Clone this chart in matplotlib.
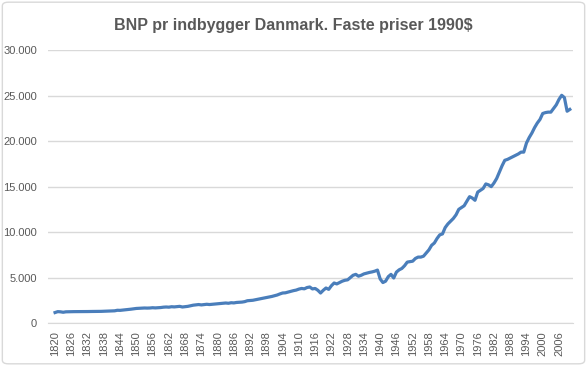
import matplotlib.pyplot as plt
from matplotlib.patches import FancyBboxPatch
from matplotlib.ticker import FuncFormatter

plt.rcParams["font.family"] = ["Liberation Sans", "DejaVu Sans"]

years = list(range(1820, 2011))
bnp = [
    1150, 1250, 1230, 1180, 1230, 1240, 1240, 1250, 1250, 1250,
    1260, 1260, 1260, 1270, 1270, 1270, 1280, 1280, 1290, 1300,
    1320, 1330, 1340, 1400, 1390, 1420, 1450, 1490, 1520, 1560,
    1600, 1620, 1640, 1650, 1640, 1650, 1680, 1660, 1680, 1700,
    1740, 1760, 1740, 1790, 1770, 1800, 1830, 1760, 1800, 1830,
    1900, 1960, 2000, 2030, 1990, 2030, 2060, 2030, 2060, 2100,
    2120, 2150, 2170, 2200, 2170, 2230, 2210, 2260, 2280, 2300,
    2350, 2450, 2480, 2500, 2560, 2620, 2680, 2740, 2800, 2860,
    2920, 3000, 3080, 3200, 3300, 3320, 3400, 3480, 3560, 3620,
    3730, 3800, 3760, 3900, 3960, 3750, 3800, 3600, 3300, 3600,
    3850, 3700, 4100, 4400, 4300, 4450, 4600, 4700, 4750, 5000,
    5250, 5350, 5150, 5250, 5400, 5480, 5560, 5620, 5700, 5820,
    4850, 4450, 4600, 5100, 5350, 4950, 5600, 5850, 6000, 6300,
    6700, 6750, 6800, 7100, 7250, 7250, 7350, 7700, 8050, 8550,
    8800, 9300, 9700, 9800, 10500, 10900, 11200, 11500, 11900, 12500,
    12700, 12900, 13400, 13900, 13750, 13500, 14400, 14600, 14800, 15300,
    15200, 15000, 15400, 15900, 16600, 17300, 17900, 18000, 18150, 18300,
    18450, 18600, 18800, 18800, 19800, 20400, 20900, 21500, 22000, 22400,
    23050, 23150, 23200, 23200, 23600, 24000, 24600, 25050, 24800, 23300,
    23500,
]
tick_years = list(range(1820, 2007, 6))
y_ticks = [0, 5000, 10000, 15000, 20000, 25000, 30000]

title = "BNP pr indbygger Danmark. Faste priser 1990$"
grey = "#595959"
grid = "#d9d9d9"

fig = plt.figure(figsize=(5.87, 3.66), dpi=100)
fig.patches.append(FancyBboxPatch((0.004, 0.006), 0.992, 0.988,
                                  boxstyle="round,pad=0,rounding_size=0.01",
                                  transform=fig.transFigure, fill=False,
                                  edgecolor=grid, linewidth=1))
ax = fig.add_axes([0.0818, 0.1175, 0.894, 0.745])

ax.plot(years, bnp, color="#4a7ebb", linewidth=2.3, solid_joinstyle="round")

ax.set_ylim(0, 30000)
ax.set_xlim(1817.4, 2011.1)
ax.set_yticks(y_ticks)
ax.yaxis.set_major_formatter(FuncFormatter(lambda v, p: f"{v:,.0f}".replace(",", ".")))
ax.set_xticks(tick_years)
ax.set_xticklabels([str(y) for y in tick_years], rotation=90)
ax.tick_params(length=0, colors=grey, labelsize=8)
ax.tick_params(axis="x", pad=6)
ax.tick_params(axis="y", pad=8)
ax.grid(axis="y", color=grid, linewidth=1)
ax.set_axisbelow(True)
for s in ["left", "right", "top"]:
    ax.spines[s].set_visible(False)
ax.spines["bottom"].set_color(grid)

fig.text(0.5, 0.93, title, ha="center", va="center", fontsize=11.5,
         fontweight="bold", color=grey)

fig.savefig("out.png", dpi=100)
